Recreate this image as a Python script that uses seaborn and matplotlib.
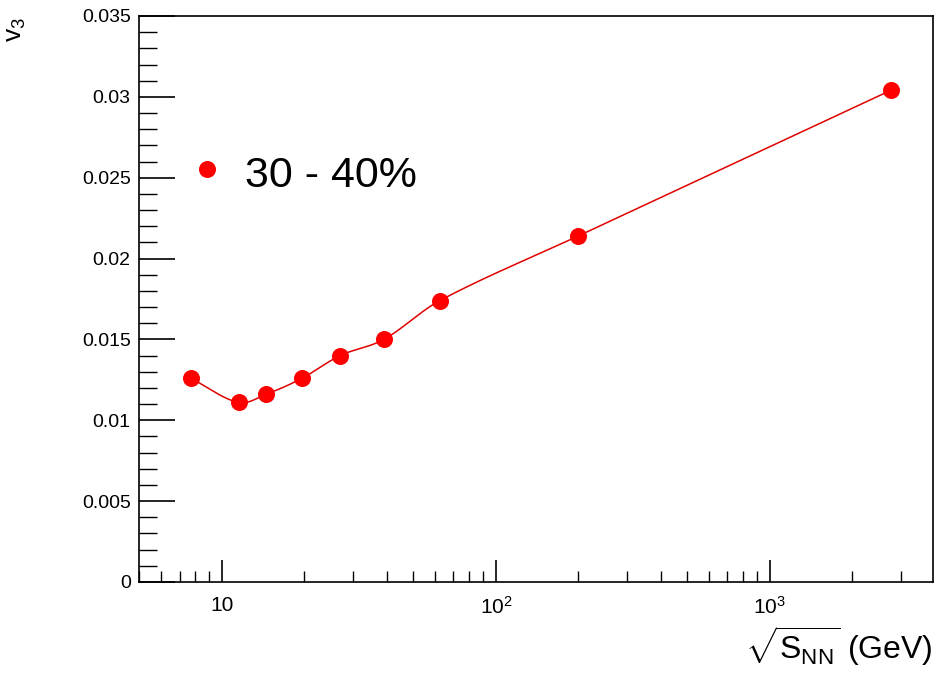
import numpy as np
import pandas as pd
import matplotlib
matplotlib.use("Agg")
import matplotlib.pyplot as plt
import matplotlib.ticker as mticker
import seaborn as sns

# Data
energy = [7.7, 11.5, 14.5, 19.6, 27.0, 39.0, 62.4, 200.0, 2760.0]
v3 = [0.0126, 0.0111, 0.0116, 0.0126, 0.0140, 0.0150, 0.0174, 0.0214, 0.0304]
legend_label = "30 - 40%"

sns.set_theme(style="white")
plt.rcParams['font.family'] = ['Liberation Sans', 'DejaVu Sans']
plt.rcParams['mathtext.fontset'] = 'custom'
plt.rcParams['mathtext.rm'] = 'Liberation Sans'
plt.rcParams['mathtext.it'] = 'Liberation Sans:italic'
plt.rcParams['text.color'] = 'black'
plt.rcParams['xtick.color'] = 'black'
plt.rcParams['ytick.color'] = 'black'

fig = plt.figure(figsize=(9.37, 6.73), dpi=100)
ax = fig.add_axes([139/937, 1-582/673, (933-139)/937, (582-16)/673])

# smooth curve (Catmull-Rom style Hermite spline in log x), like ROOT "C" option
def smooth(x, y, xs):
    x = np.asarray(x, float); y = np.asarray(y, float)
    n = len(x)
    m = np.empty(n)
    m[0] = (y[1]-y[0])/(x[1]-x[0])
    m[-1] = (y[-1]-y[-2])/(x[-1]-x[-2])
    for i in range(1, n-1):
        m[i] = (y[i+1]-y[i-1])/(x[i+1]-x[i-1])
    out = np.empty_like(xs)
    for k, xv in enumerate(xs):
        i = min(max(np.searchsorted(x, xv) - 1, 0), n-2)
        h = x[i+1]-x[i]
        t = (xv - x[i])/h
        h00 = 2*t**3 - 3*t**2 + 1
        h10 = t**3 - 2*t**2 + t
        h01 = -2*t**3 + 3*t**2
        h11 = t**3 - t**2
        out[k] = h00*y[i] + h10*h*m[i] + h01*y[i+1] + h11*h*m[i+1]
    return out

lx = np.log10(energy)
lxs = np.linspace(lx[0], lx[-1], 600)
ys = smooth(lx, v3, lxs)
curve = pd.DataFrame({"x": 10**lxs, "y": ys})
df = pd.DataFrame({"energy": energy, "v3": v3})

sns.lineplot(data=curve, x="x", y="y", ax=ax, color="#e00000", lw=1.1, sort=False)
sns.scatterplot(data=df, x="energy", y="v3", ax=ax, color="#ff0000", s=150,
                edgecolor="#ff0000", linewidth=0, zorder=5)

ax.set_xscale("log")
ax.set_xlim(4.98, 3940)
ax.set_ylim(0, 0.035)
ax.set_xlabel(""); ax.set_ylabel("")

ax.yaxis.set_major_locator(mticker.MultipleLocator(0.005))
ax.yaxis.set_minor_locator(mticker.MultipleLocator(0.001))
ax.yaxis.set_major_formatter(mticker.FuncFormatter(lambda v, p: "0" if abs(v) < 1e-12 else ("%g" % v)))

def xfmt(v, p):
    e = int(round(np.log10(v)))
    if e == 1:
        return "10"
    return r"$\mathrm{10^{%d}}$" % e
ax.xaxis.set_major_locator(mticker.LogLocator(base=10))
ax.xaxis.set_major_formatter(mticker.FuncFormatter(xfmt))
ax.xaxis.set_minor_locator(mticker.LogLocator(base=10, subs=np.arange(2, 10)))
ax.xaxis.set_minor_formatter(mticker.NullFormatter())

ax.tick_params(axis="y", which="major", direction="in", length=26, width=1.2, labelsize=14, pad=6, left=True, right=False)
ax.tick_params(axis="y", which="minor", direction="in", length=13, width=1.0, left=True, right=False)
ax.tick_params(axis="x", which="major", direction="in", length=16, width=1.2, labelsize=15, pad=10, bottom=True, top=False)
ax.tick_params(axis="x", which="minor", direction="in", length=8, width=1.0, bottom=True, top=False)
for s in ax.spines.values():
    s.set_color("black"); s.set_linewidth(1.2); s.set_visible(True)

# legend
ax.scatter([0.086], [0.7297], transform=ax.transAxes, s=150, color="#ff0000", linewidths=0, clip_on=False)
ax.text(0.133, 0.718, legend_label, transform=ax.transAxes, fontsize=31, va="center", ha="left")

fig.text(16/937, 1-17/673, r"$\mathrm{v}_{3}$", rotation=90, fontsize=19, ha="center", va="top")
fig.text(933/937, 1-668/673, r"$\sqrt{\mathrm{S}_{\mathrm{NN}}}$ (GeV)", fontsize=23, ha="right", va="bottom")

fig.savefig("out.png", dpi=100, facecolor="white")
